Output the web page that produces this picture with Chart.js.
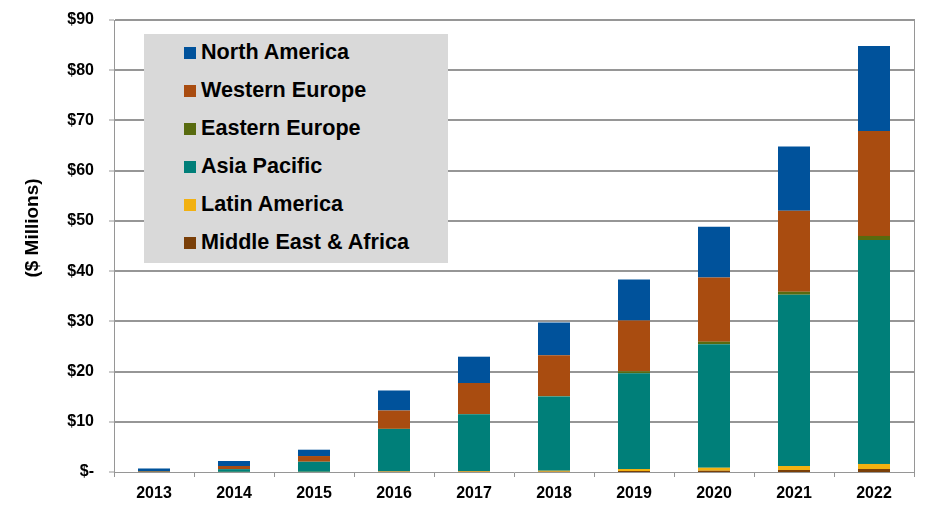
<!DOCTYPE html>
<html>
<head>
<meta charset="utf-8">
<script src="https://cdn.jsdelivr.net/npm/chart.js@4"></script>
<style>
  html, body { margin: 0; padding: 0; background: #fff; }
  .chart-wrap { position: relative; width: 930px; height: 512px; }
  .legend-box {
    position: absolute; left: 144px; top: 34px; width: 304px; height: 229px;
    background: #d9d9d9; font: bold 21.6px "Liberation Sans", Arial, sans-serif; color: #000;
  }
  .legend-box ul { list-style: none; margin: -1px 0 0 0; padding: 0; }
  .legend-box li { height: 38px; line-height: 38px; padding-left: 40px; white-space: nowrap; }
  .legend-box li span {
    display: inline-block; width: 12px; height: 12px; margin-right: 5px; vertical-align: 0px;
  }
</style>
</head>
<body>
<div class="chart-wrap">
  <canvas id="grafica" width="930" height="512"></canvas>
  <div class="legend-box"><ul id="leyenda"></ul></div>
</div>
<script>
const years = ['2013', '2014', '2015', '2016', '2017', '2018', '2019', '2020', '2021', '2022'];
const northAmerica     = [0.5, 1.0, 1.26, 3.98, 5.24, 6.5, 8.2, 10.1, 12.8, 16.9];
const westernEurope    = [0.15, 0.6, 1.13, 3.65, 6.17, 8.1, 10.1, 12.8, 16.1, 20.9];
const easternEurope    = [0.0, 0.02, 0.02, 0.05, 0.05, 0.1, 0.4, 0.5, 0.6, 0.8];
const asiaPacific      = [0.05, 0.55, 2.0, 8.4, 11.3, 14.8, 19.05, 24.6, 34.1, 44.6];
const latinAmerica     = [0.0, 0.02, 0.03, 0.1, 0.15, 0.2, 0.4, 0.6, 0.8, 1.0];
const middleEastAfrica = [0.0, 0.0, 0.0, 0.05, 0.05, 0.05, 0.2, 0.25, 0.4, 0.6];
const yTicks = [0, 10, 20, 30, 40, 50, 60, 70, 80, 90];

const FONT = '"Liberation Sans", Arial, sans-serif';
const GRIS = '#969696';

// bottom of the stack first
const series = [
  { label: 'Middle East & Africa', data: middleEastAfrica, color: '#7a3f08' },
  { label: 'Latin America', data: latinAmerica, color: '#f2b111' },
  { label: 'Asia Pacific', data: asiaPacific, color: '#007f79' },
  { label: 'Eastern Europe', data: easternEurope, color: '#586b0f' },
  { label: 'Western Europe', data: westernEurope, color: '#a94c10' },
  { label: 'North America', data: northAmerica, color: '#00529b' }
];

// legend (top of stack first)
const leyenda = document.getElementById('leyenda');
series.slice().reverse().forEach(s => {
  const li = document.createElement('li');
  li.innerHTML = `<span style="background:${s.color}"></span>${s.label}`;
  leyenda.appendChild(li);
});

const bordeDerecho = {
  id: 'bordeDerecho',
  afterDraw(chart) {
    const { ctx, chartArea } = chart;
    ctx.save();
    ctx.strokeStyle = GRIS;
    ctx.lineWidth = 1;
    ctx.beginPath();
    ctx.moveTo(chartArea.right + 0.5, chartArea.top - 1);
    ctx.lineTo(chartArea.right + 0.5, chartArea.bottom);
    ctx.stroke();
    // y axis title
    ctx.translate(33, 228);
    ctx.rotate(-Math.PI / 2);
    ctx.font = 'bold 19px ' + FONT;
    ctx.fillStyle = '#000';
    ctx.textAlign = 'center';
    ctx.textBaseline = 'middle';
    ctx.fillText('($ Millions)', 0, 0);
    ctx.restore();
  }
};

new Chart(document.getElementById('grafica'), {
  type: 'bar',
  data: {
    labels: years,
    datasets: series.map(s => ({
      label: s.label,
      data: s.data,
      backgroundColor: s.color,
      borderWidth: 0,
      categoryPercentage: 0.8,
      barPercentage: 0.5
    }))
  },
  options: {
    responsive: false,
    animation: false,
    layout: { padding: { top: 20, right: 16, bottom: 0, left: 0 } },
    plugins: {
      legend: { display: false },
      tooltip: { enabled: false }
    },
    scales: {
      x: {
        stacked: true,
        afterFit: scale => { scale.height = 40; scale.paddingLeft = 0; scale.paddingRight = 0; },
        grid: { drawOnChartArea: false, tickLength: 5, tickColor: GRIS, tickWidth: 1 },
        border: { color: GRIS, width: 1 },
        ticks: { color: '#000', padding: 7, font: { family: FONT, size: 16, weight: 'bold' } }
      },
      y: {
        stacked: true,
        min: 0,
        max: 90,
        afterFit: scale => { scale.width = 114; scale.paddingTop = 0; scale.paddingBottom = 0; },
        afterBuildTicks: scale => { scale.ticks = yTicks.map(v => ({ value: v })); },
        grid: {
          color: GRIS,
          lineWidth: c => (c.tick && c.tick.value === 0 ? 0 : 2),
          tickLength: 5,
          tickColor: GRIS,
          tickWidth: 1
        },
        border: { color: GRIS, width: 1 },
        ticks: {
          color: '#000',
          padding: 15,
          font: { family: FONT, size: 16, weight: 'bold' },
          callback: v => (v === 0 ? '$-' : '$' + v)
        }
      }
    }
  },
  plugins: [bordeDerecho]
});
</script>
</body>
</html>
